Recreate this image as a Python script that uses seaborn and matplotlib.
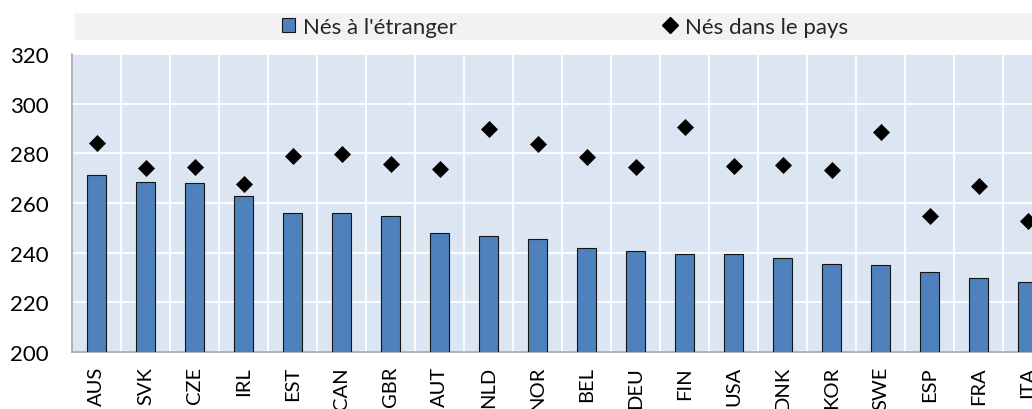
import numpy as np
import pandas as pd
import matplotlib
matplotlib.use("Agg")
import matplotlib.pyplot as plt
from matplotlib.patches import Patch, Rectangle
from matplotlib.lines import Line2D
import seaborn as sns

countries = ["AUS", "SVK", "CZE", "IRL", "EST", "CAN", "GBR", "AUT", "NLD", "NOR",
             "BEL", "DEU", "FIN", "USA", "DNK", "KOR", "SWE", "ESP", "FRA", "ITA"]
foreign_born = [271.2, 268.3, 268.1, 262.8, 256.1, 255.9, 254.9, 247.9, 246.8, 245.4,
                241.8, 240.6, 239.6, 239.5, 237.7, 235.5, 235.0, 232.3, 229.6, 228.3]
native_born = [284.2, 274.1, 274.4, 267.7, 279.1, 279.7, 275.7, 273.8, 289.7, 283.9,
               278.4, 274.6, 290.7, 275.0, 275.3, 273.3, 288.7, 254.9, 267.0, 252.9]
y_ticks = [200, 220, 240, 260, 280, 300, 320]
label_foreign = "Nés à l'étranger"
label_native = "Nés dans le pays"

df = pd.DataFrame({"pays": countries, "etranger": foreign_born, "natif": native_born})

sns.set_theme(style="white")
plt.rcParams["font.family"] = ["Lato", "DejaVu Sans"]

BAR = "#4F81BD"
BG = "#DCE6F2"

fig = plt.figure(figsize=(10.32, 4.10), dpi=100)
ax = fig.add_axes([72 / 1032, 57 / 410, 980 / 1032, 298 / 410])
ax.set_facecolor(BG)

sns.barplot(data=df, x="pays", y="etranger", order=countries, color=BAR,
            width=0.4, edgecolor="#141414", linewidth=0.8, saturation=1, ax=ax, zorder=3)
sns.stripplot(data=df, x="pays", y="natif", order=countries, color="black",
              marker="D", size=8.7, jitter=False, ax=ax, zorder=4, linewidth=0)

ax.set_xlim(-0.5, len(countries) - 0.5)
ax.set_ylim(200, 320)
ax.set_yticks(y_ticks)
ax.set_yticklabels([str(v) for v in y_ticks], fontsize=16, color="black")
ax.set_xticks(range(len(countries)))
ax.set_xticklabels(countries, rotation=90, fontsize=14.5, color="black", va="top")
ax.set_xticks(np.arange(-0.5, len(countries), 1), minor=True)
ax.tick_params(axis="both", which="both", length=0)
ax.tick_params(axis="y", pad=17)
ax.tick_params(axis="x", pad=10)
ax.set_xlabel("")
ax.set_ylabel("")

ax.grid(False)
ax.yaxis.grid(True, color="white", linewidth=1.3, zorder=1)
ax.xaxis.grid(True, which="minor", color="white", linewidth=1.3, zorder=1)
ax.set_axisbelow(True)

for s in ["top", "right"]:
    ax.spines[s].set_visible(False)
for s in ["left", "bottom"]:
    ax.spines[s].set_visible(True)
    ax.spines[s].set_color("#a6a6a6")
    ax.spines[s].set_linewidth(1.2)

# legend band
fig.patches.append(Rectangle((75 / 1032, 1 - 41 / 410), 1.0, 27 / 410,
                             transform=fig.transFigure, facecolor="#F2F2F2",
                             edgecolor="none", zorder=0))
handles = [Patch(facecolor=BAR, edgecolor="#141414", linewidth=0.8),
           Line2D([], [], marker="D", color="black", linestyle="None", markersize=8.3)]
fig.legend(handles, [label_foreign, label_native], ncol=2, frameon=False,
           loc="center", bbox_to_anchor=(565 / 1032, 1 - 27.5 / 410),
           fontsize=16, handlelength=0.6, handleheight=0.6, handletextpad=0.35,
           columnspacing=9.3, borderpad=0)

fig.savefig("out.png", dpi=100)
